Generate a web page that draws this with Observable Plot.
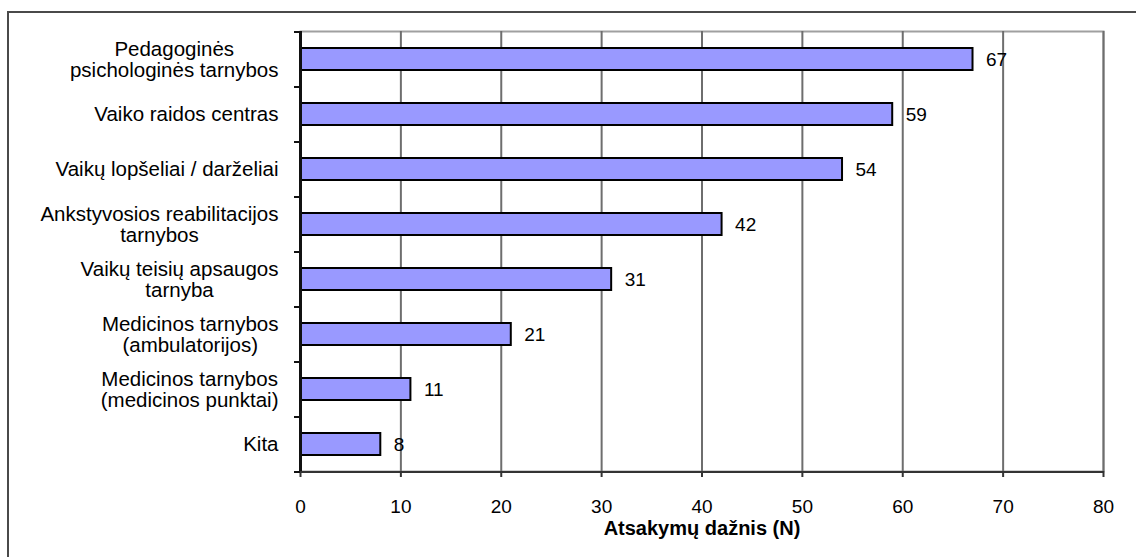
<!DOCTYPE html>
<html>
<head>
<meta charset="utf-8">
<script src="https://cdn.jsdelivr.net/npm/d3@7"></script>
<script src="https://cdn.jsdelivr.net/npm/@observablehq/plot@0.6"></script>
<style>
  html, body { margin: 0; padding: 0; background: #fff; }
  #wrap { position: relative; width: 1136px; height: 557px; overflow: hidden; }
  #edge { position: absolute; left: 7px; top: 11px; width: 1200px; height: 600px;
          border-left: 2px solid #4a4a4a; border-top: 2px solid #4a4a4a; box-sizing: border-box; }
  #chart { position: absolute; left: 0; top: 0; }
</style>
</head>
<body>
<div id="wrap"><div id="edge"></div><div id="chart"></div></div>
<script>
// Institutions named by respondents, top to bottom
const categories = [
  "Pedagoginės\npsichologinės tarnybos",
  "Vaiko raidos centras",
  "Vaikų lopšeliai / darželiai",
  "Ankstyvosios reabilitacijos\ntarnybos",
  "Vaikų teisių apsaugos\ntarnyba",
  "Medicinos tarnybos\n(ambulatorijos)",
  "Medicinos tarnybos\n(medicinos punktai)",
  "Kita"
];
// Number of answers for each institution
const counts = [67, 59, 54, 42, 31, 21, 11, 8];
// Frequency axis ticks and title
const xTicks = [0, 10, 20, 30, 40, 50, 60, 70, 80];
const xTitle = "Atsakymų dažnis (N)";

const data = categories.map((c, i) => ({category: c, count: counts[i]}));
const last = categories[categories.length - 1];

const chart = Plot.plot({
  width: 1136,
  height: 557,
  marginLeft: 300,
  marginRight: 33,
  marginTop: 31,
  marginBottom: 86,
  style: {fontFamily: "'Liberation Sans', Arial, sans-serif", color: "#000", background: "transparent"},
  x: {domain: [0, 80], ticks: xTicks},
  y: {domain: categories, paddingInner: 0.6, paddingOuter: 0.3},
  marks: [
    Plot.frame({stroke: "#a0a0a0", strokeWidth: 2}),
    Plot.gridX(xTicks.slice(1), {stroke: "#6e6e6e", strokeOpacity: 1, strokeWidth: 2}),
    Plot.barX(data, {x: "count", y: "category", fill: "#9999ff", stroke: "#000", strokeWidth: 2}),
    Plot.text(data, {x: "count", y: "category", text: d => String(d.count), dx: 13,
                     textAnchor: "start", fontSize: 19, fill: "#000"}),
    Plot.ruleX([0], {stroke: "#111", strokeWidth: 3}),
    Plot.ruleY([last], {dy: 27.5, stroke: "#333", strokeWidth: 2}),
    Plot.axisX({ticks: xTicks, tickSize: 6, tickPadding: 22, fontSize: 19, label: null, stroke: "#333", strokeWidth: 2}),
    Plot.text([xTitle], {frameAnchor: "bottom", dy: 49, lineAnchor: "top", fontSize: 20,
                         fontWeight: "bold", fill: "#000"}),
    // band boundary ticks on the category axis
    Plot.axisY({tickSize: 6, tickFormat: () => "", dy: -27.5, label: null, stroke: "#111", strokeWidth: 2}),
    Plot.axisY({ticks: [last], tickSize: 6, tickFormat: () => "", dy: 27.5, label: null, stroke: "#111", strokeWidth: 2}),
    Plot.axisY({tickSize: 0, tickPadding: 22, fontSize: 20.5, lineHeight: 1.06, label: null})
  ]
});

document.getElementById("chart").append(chart);

// Centre the lines of two-line category labels within their right-aligned block
chart.querySelectorAll("text").forEach(t => {
  const spans = t.querySelectorAll("tspan");
  if (spans.length < 2) return;
  const w = Math.max(...[...spans].map(s => s.getComputedTextLength()));
  const x0 = +(t.getAttribute("x") || 0);
  t.setAttribute("text-anchor", "middle");
  spans.forEach(s => s.setAttribute("x", x0 - w / 2));
});
</script>
</body>
</html>
